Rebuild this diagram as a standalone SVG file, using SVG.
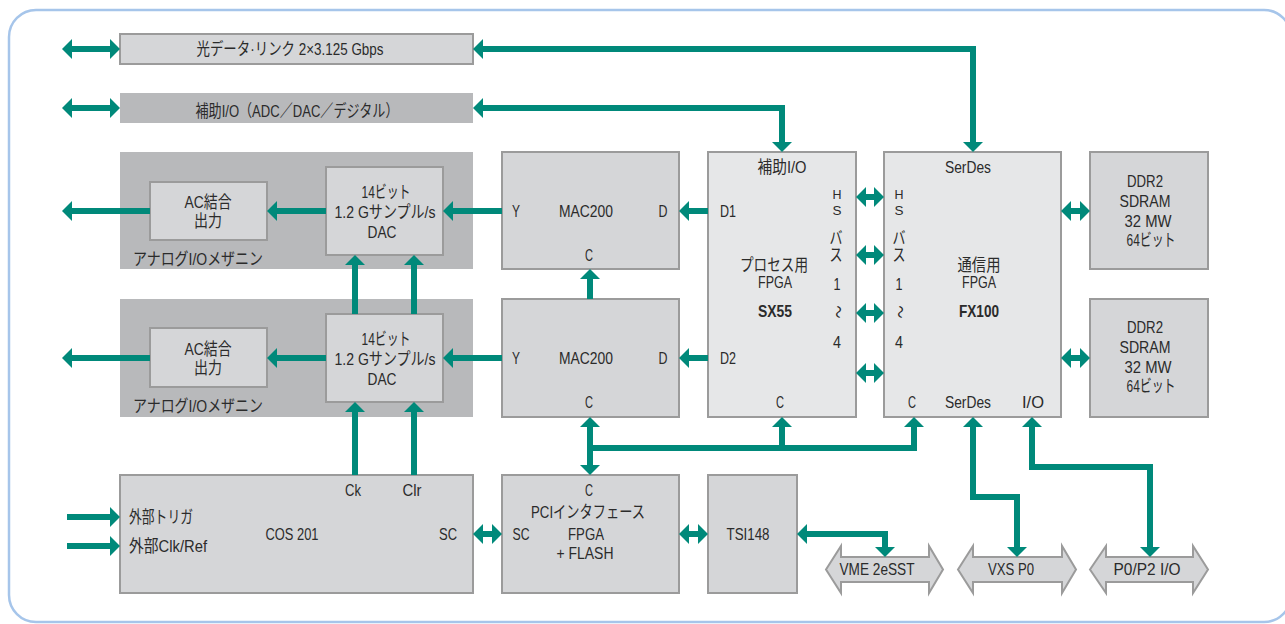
<svg xmlns="http://www.w3.org/2000/svg" width="1285" height="624" viewBox="0 0 1285 624">
<style>
.box{fill:#d5d6d8;stroke:#9b9b9b;stroke-width:2}
.fpga{fill:#e6e7e8;stroke:#9b9b9b;stroke-width:2}
.mezz{fill:#b8b9bb}
.t{font-family:"Liberation Sans","Noto Sans CJK JP",sans-serif;font-size:17px;fill:#2b2b2b}
.hs{font-size:13px}
.m{text-anchor:middle}
.b{font-weight:bold}
.c{fill:none;stroke:#00897a;stroke-width:6;stroke-linejoin:miter}
.e{marker-end:url(#ah)}
.s{marker-start:url(#ah)}
.io{fill:#d5d6d8;stroke:#9b9b9b;stroke-width:2}
</style>
<defs>
<marker id="ah" viewBox="0 0 10 20" refX="2" refY="10" markerWidth="10" markerHeight="20" markerUnits="userSpaceOnUse" orient="auto-start-reverse">
<path d="M0,0 L10,10 L0,20 Z" fill="#00897a"/>
</marker>
</defs>
<rect x="9" y="10" width="1282" height="612" rx="27" fill="#fff" stroke="#a6c5ea" stroke-width="2.5"/>

<g id="optical">
<rect class="box" x="120" y="34" width="353" height="30"/>
<text class="t m" x="290" y="55" textLength="187" lengthAdjust="spacingAndGlyphs">光データ·リンク 2×3.125 Gbps</text>
</g>
<g id="auxio">
<rect class="mezz" x="120" y="93" width="353" height="30"/>
<text class="t m" x="297" y="117" textLength="203" lengthAdjust="spacingAndGlyphs">補助I/O（ADC／DAC／デジタル）</text>
</g>

<g id="mezz1">
<rect class="mezz" x="120" y="152" width="353" height="117"/>
<text class="t" x="133" y="265" textLength="130" lengthAdjust="spacingAndGlyphs">アナログI/Oメザニン</text>
</g>
<g id="ac1">
<rect class="box" x="150" y="182" width="117" height="58"/>
<text class="t m" x="208" y="208" textLength="47" lengthAdjust="spacingAndGlyphs">AC結合</text>
<text class="t m" x="208" y="227" textLength="28" lengthAdjust="spacingAndGlyphs">出力</text>
</g>
<g id="dac1">
<rect class="box" x="326" y="167" width="117" height="88"/>
<text class="t m" x="386" y="198" textLength="49" lengthAdjust="spacingAndGlyphs">14ビット</text>
<text class="t m" x="385" y="218" textLength="101" lengthAdjust="spacingAndGlyphs">1.2 Gサンプル/s</text>
<text class="t m" x="382" y="238" textLength="29" lengthAdjust="spacingAndGlyphs">DAC</text>
</g>

<g id="mezz2">
<rect class="mezz" x="120" y="299" width="353" height="118"/>
<text class="t" x="133" y="412" textLength="130" lengthAdjust="spacingAndGlyphs">アナログI/Oメザニン</text>
</g>
<g id="ac2">
<rect class="box" x="150" y="328" width="117" height="59"/>
<text class="t m" x="208" y="355" textLength="47" lengthAdjust="spacingAndGlyphs">AC結合</text>
<text class="t m" x="208" y="374" textLength="28" lengthAdjust="spacingAndGlyphs">出力</text>
</g>
<g id="dac2">
<rect class="box" x="326" y="314" width="117" height="88"/>
<text class="t m" x="386" y="345" textLength="49" lengthAdjust="spacingAndGlyphs">14ビット</text>
<text class="t m" x="385" y="365" textLength="101" lengthAdjust="spacingAndGlyphs">1.2 Gサンプル/s</text>
<text class="t m" x="382" y="385" textLength="29" lengthAdjust="spacingAndGlyphs">DAC</text>
</g>

<g id="cos201">
<rect class="box" x="120" y="475" width="353" height="118"/>
<text class="t m" x="353" y="496" textLength="16" lengthAdjust="spacingAndGlyphs">Ck</text>
<text class="t m" x="412" y="496" textLength="19" lengthAdjust="spacingAndGlyphs">Clr</text>
<text class="t" x="129" y="523" textLength="64" lengthAdjust="spacingAndGlyphs">外部トリガ</text>
<text class="t" x="129" y="552" textLength="78" lengthAdjust="spacingAndGlyphs">外部Clk/Ref</text>
<text class="t m" x="292" y="540" textLength="53" lengthAdjust="spacingAndGlyphs">COS 201</text>
<text class="t m" x="448" y="540" textLength="18" lengthAdjust="spacingAndGlyphs">SC</text>
</g>

<g id="mac1">
<rect class="box" x="502" y="152" width="177" height="117"/>
<text class="t m" x="516" y="217" textLength="8" lengthAdjust="spacingAndGlyphs">Y</text>
<text class="t m" x="586" y="217" textLength="54" lengthAdjust="spacingAndGlyphs">MAC200</text>
<text class="t m" x="663" y="217" textLength="9" lengthAdjust="spacingAndGlyphs">D</text>
<text class="t m" x="589" y="261" textLength="8" lengthAdjust="spacingAndGlyphs">C</text>
</g>
<g id="mac2">
<rect class="box" x="502" y="299" width="177" height="118"/>
<text class="t m" x="516" y="364" textLength="8" lengthAdjust="spacingAndGlyphs">Y</text>
<text class="t m" x="586" y="364" textLength="54" lengthAdjust="spacingAndGlyphs">MAC200</text>
<text class="t m" x="663" y="364" textLength="9" lengthAdjust="spacingAndGlyphs">D</text>
<text class="t m" x="589" y="408" textLength="8" lengthAdjust="spacingAndGlyphs">C</text>
</g>

<g id="sx55">
<rect class="fpga" x="708" y="152" width="148" height="265"/>
<text class="t m" x="782" y="173" textLength="49" lengthAdjust="spacingAndGlyphs">補助I/O</text>
<text class="t" x="720" y="217" textLength="16" lengthAdjust="spacingAndGlyphs">D1</text>
<text class="t" x="720" y="364" textLength="16" lengthAdjust="spacingAndGlyphs">D2</text>
<text class="t m" x="774" y="271" textLength="68" lengthAdjust="spacingAndGlyphs">プロセス用</text>
<text class="t m" x="775" y="288" textLength="34" lengthAdjust="spacingAndGlyphs">FPGA</text>
<text class="t m b" x="775" y="317" textLength="34" lengthAdjust="spacingAndGlyphs">SX55</text>
<text class="t m" x="780" y="408" textLength="8" lengthAdjust="spacingAndGlyphs">C</text>
<text class="t hs m" x="837" y="199" textLength="9" lengthAdjust="spacingAndGlyphs">H</text>
<text class="t hs m" x="837" y="215" textLength="9" lengthAdjust="spacingAndGlyphs">S</text>
<text class="t m" x="836" y="244" textLength="13" lengthAdjust="spacingAndGlyphs">バ</text>
<text class="t m" x="836" y="261" textLength="13" lengthAdjust="spacingAndGlyphs">ス</text>
<text class="t m" x="837" y="290" textLength="7" lengthAdjust="spacingAndGlyphs">1</text>
<text class="t m" transform="translate(837 312) rotate(90)" x="0" y="5" textLength="13" lengthAdjust="spacingAndGlyphs">〜</text>
<text class="t m" x="837" y="348" textLength="8" lengthAdjust="spacingAndGlyphs">4</text>
</g>

<g id="fx100">
<rect class="fpga" x="884" y="152" width="177" height="265"/>
<text class="t m" x="968" y="173" textLength="46" lengthAdjust="spacingAndGlyphs">SerDes</text>
<text class="t hs m" x="899" y="199" textLength="9" lengthAdjust="spacingAndGlyphs">H</text>
<text class="t hs m" x="899" y="215" textLength="9" lengthAdjust="spacingAndGlyphs">S</text>
<text class="t m" x="899" y="244" textLength="13" lengthAdjust="spacingAndGlyphs">バ</text>
<text class="t m" x="899" y="261" textLength="13" lengthAdjust="spacingAndGlyphs">ス</text>
<text class="t m" x="899" y="290" textLength="7" lengthAdjust="spacingAndGlyphs">1</text>
<text class="t m" transform="translate(899 312) rotate(90)" x="0" y="5" textLength="13" lengthAdjust="spacingAndGlyphs">〜</text>
<text class="t m" x="899" y="348" textLength="8" lengthAdjust="spacingAndGlyphs">4</text>
<text class="t m" x="979" y="271" textLength="43" lengthAdjust="spacingAndGlyphs">通信用</text>
<text class="t m" x="979" y="288" textLength="34" lengthAdjust="spacingAndGlyphs">FPGA</text>
<text class="t m b" x="979" y="317" textLength="40" lengthAdjust="spacingAndGlyphs">FX100</text>
<text class="t m" x="912" y="408" textLength="8" lengthAdjust="spacingAndGlyphs">C</text>
<text class="t m" x="968" y="408" textLength="46" lengthAdjust="spacingAndGlyphs">SerDes</text>
<text class="t m" x="1033" y="408" textLength="22" lengthAdjust="spacingAndGlyphs">I/O</text>
</g>

<g id="ddr1">
<rect class="box" x="1090" y="152" width="118" height="117"/>
<text class="t m" x="1145" y="187" textLength="36" lengthAdjust="spacingAndGlyphs">DDR2</text>
<text class="t m" x="1145" y="207" textLength="51" lengthAdjust="spacingAndGlyphs">SDRAM</text>
<text class="t m" x="1148" y="227" textLength="47" lengthAdjust="spacingAndGlyphs">32 MW</text>
<text class="t m" x="1151" y="246" textLength="49" lengthAdjust="spacingAndGlyphs">64ビット</text>
</g>
<g id="ddr2">
<rect class="box" x="1090" y="299" width="118" height="118"/>
<text class="t m" x="1145" y="333" textLength="36" lengthAdjust="spacingAndGlyphs">DDR2</text>
<text class="t m" x="1145" y="353" textLength="51" lengthAdjust="spacingAndGlyphs">SDRAM</text>
<text class="t m" x="1148" y="373" textLength="47" lengthAdjust="spacingAndGlyphs">32 MW</text>
<text class="t m" x="1151" y="392" textLength="49" lengthAdjust="spacingAndGlyphs">64ビット</text>
</g>

<g id="pci">
<rect class="box" x="502" y="475" width="177" height="118"/>
<text class="t m" x="589" y="496" textLength="8" lengthAdjust="spacingAndGlyphs">C</text>
<text class="t m" x="588" y="518" textLength="114" lengthAdjust="spacingAndGlyphs">PCIインタフェース</text>
<text class="t m" x="521" y="540" textLength="17" lengthAdjust="spacingAndGlyphs">SC</text>
<text class="t m" x="586" y="540" textLength="36" lengthAdjust="spacingAndGlyphs">FPGA</text>
<text class="t m" x="585" y="559" textLength="57" lengthAdjust="spacingAndGlyphs">+ FLASH</text>
</g>
<g id="tsi148">
<rect class="box" x="708" y="475" width="89" height="118"/>
<text class="t m" x="748" y="540" textLength="43" lengthAdjust="spacingAndGlyphs">TSI148</text>
</g>

<g id="vme">
<polygon class="io" points="826,569.5 841,546 841,557 929,557 929,546 943,569.5 929,593 929,582 841,582 841,593"/>
<text class="t m" x="877" y="575" textLength="75" lengthAdjust="spacingAndGlyphs">VME 2eSST</text>
</g>
<g id="vxs">
<polygon class="io" points="958,569.5 973,546 973,557 1062,557 1062,546 1076,569.5 1062,593 1062,582 973,582 973,593"/>
<text class="t m" x="1011" y="575" textLength="46" lengthAdjust="spacingAndGlyphs">VXS P0</text>
</g>
<g id="p0p2">
<polygon class="io" points="1090,569.5 1106,546 1106,557 1193,557 1193,546 1208,569.5 1193,593 1193,582 1106,582 1106,593"/>
<text class="t m" x="1147" y="575" textLength="67" lengthAdjust="spacingAndGlyphs">P0/P2 I/O</text>
</g>

<g id="connectors">
<path class="c s e" d="M70,49 H112"/>
<path class="c s e" d="M70,108 H112"/>
<path class="c s e" d="M481,49 H973 V144"/>
<path class="c s e" d="M481,108 H782 V144"/>
<path class="c e" d="M150,211 H70"/>
<path class="c e" d="M326,211 H275"/>
<path class="c e" d="M502,211 H451"/>
<path class="c e" d="M150,358 H70"/>
<path class="c e" d="M326,358 H275"/>
<path class="c e" d="M502,358 H451"/>
<path class="c e" d="M355,314 V263"/>
<path class="c e" d="M414,314 V263"/>
<path class="c e" d="M355,475 V410"/>
<path class="c e" d="M414,475 V410"/>
<path class="c e" d="M67,517 H112"/>
<path class="c e" d="M67,546 H112"/>
<path class="c s e" d="M481,534 H494"/>
<path class="c s e" d="M687,534 H700"/>
<path class="c e" d="M708,211 H687"/>
<path class="c e" d="M708,358 H687"/>
<path class="c e" d="M590,299 V277"/>
<path class="c s e" d="M590,425 V467"/>
<path class="c e" d="M590,448 H914 V425"/>
<path class="c e" d="M782,448 V425"/>
<path class="c s e" d="M864,197 H876"/>
<path class="c s e" d="M864,255 H876"/>
<path class="c s e" d="M864,313 H876"/>
<path class="c s e" d="M864,373 H876"/>
<path class="c s e" d="M1069,211 H1082"/>
<path class="c s e" d="M1069,358 H1082"/>
<path class="c s e" d="M973,425 V497 H1017 V549"/>
<path class="c s e" d="M1032,425 V467 H1150 V549"/>
<path class="c s e" d="M805,534 H885 V549"/>
</g>
</svg>
